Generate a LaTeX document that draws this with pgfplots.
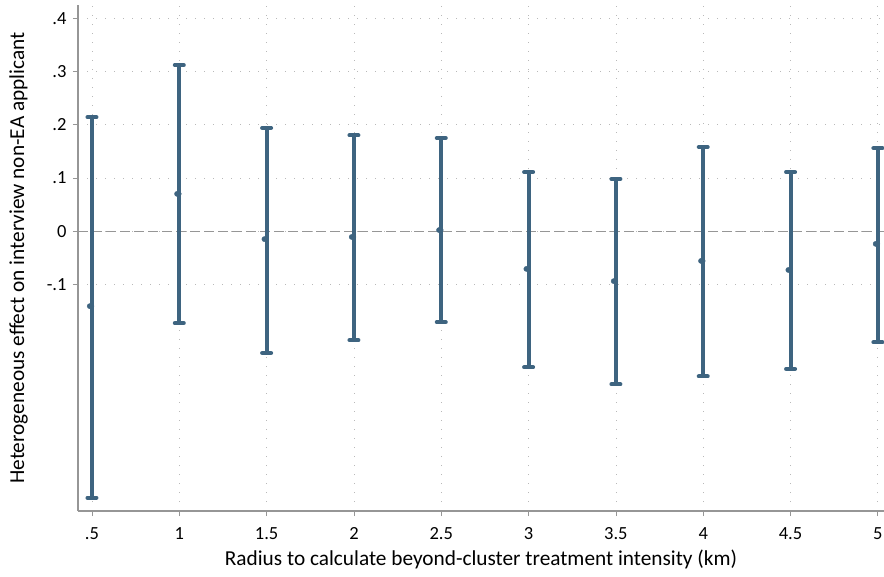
\documentclass[border=0pt]{standalone}
\usepackage{pgfplots}
\pgfplotsset{compat=1.18}
\usepackage{pgfplotstable}
\usepackage{fontspec}
\setmainfont{Carlito}
\definecolor{barblue}{RGB}{62,100,128}
\definecolor{axgray}{RGB}{150,150,150}
\definecolor{gridgray}{RGB}{185,185,185}

% radius, point estimate, lower and upper bound of the 95% CI
\pgfplotstableread{
x    y       lo      hi
0.5  -0.141  -0.501  0.214
1.0   0.070  -0.173  0.312
1.5  -0.015  -0.229  0.194
2.0  -0.011  -0.205  0.180
2.5   0.002  -0.171  0.175
3.0  -0.071  -0.256  0.111
3.5  -0.094  -0.288  0.098
4.0  -0.056  -0.273  0.158
4.5  -0.073  -0.259  0.111
5.0  -0.024  -0.209  0.156
}\estimates

\begin{document}
\begin{tikzpicture}
\useasboundingbox (0pt,0pt) rectangle (884pt,576pt);
\begin{axis}[
  at={(78pt,65pt)}, anchor=south west,
  scale only axis, width=806pt, height=506pt,
  xmin=0.42, xmax=5.035, ymin=-0.526, ymax=0.425,
  axis x line*=bottom, axis y line*=left,
  axis line style={axgray, line width=1.2pt, -},
  xtick={0.5,1,...,5},
  xticklabels={.5,1,1.5,2,2.5,3,3.5,4,4.5,5},
  ytick={-0.1,0,0.1,0.2,0.3,0.4},
  yticklabels={-.1,0,.1,.2,.3,.4},
  tick align=outside, major tick length=5pt,
  tick style={axgray, line width=0.8pt},
  ticklabel style={font=\fontsize{18.5}{21}\selectfont, text=black},
  xticklabel style={yshift=-8pt},
  yticklabel style={xshift=-3pt},
  grid=major,
  major grid style={gridgray, line width=0.8pt, dash pattern=on 1pt off 8pt},
  xlabel={Radius to calculate beyond-cluster treatment intensity (km)},
  ylabel={Heterogeneous effect on interview non-EA applicant},
  label style={font=\fontsize{21.3}{24}\selectfont},
  xlabel style={yshift=-3pt},
  ylabel style={yshift=12pt},
  clip=false,
]
\addplot[axgray, line width=1.2pt, dash pattern=on 10pt off 4pt, forget plot]
  coordinates {(0.42,0) (5.035,0)};
% confidence intervals
\addplot[
  barblue, only marks, mark=none,
  error bars/.cd, y dir=both, y explicit,
  error bar style={barblue, line width=4pt},
  error mark=none,
] table[
  x=x, y=y,
  y error plus expr=\thisrow{hi}-\thisrow{y},
  y error minus expr=\thisrow{y}-\thisrow{lo},
] {\estimates};
% caps of the intervals
\addplot[barblue, only marks, mark=-, mark size=4.5pt,
  mark options={line width=4pt, line cap=round}] table[x=x, y=lo] {\estimates};
\addplot[barblue, only marks, mark=-, mark size=4.5pt,
  mark options={line width=4pt, line cap=round}] table[x=x, y=hi] {\estimates};
% point estimates
\addplot[barblue, only marks, mark=*, mark size=2.6pt,
  mark options={xshift=-2.2pt}] table[x=x, y=y] {\estimates};
\end{axis}
\end{tikzpicture}
\end{document}
